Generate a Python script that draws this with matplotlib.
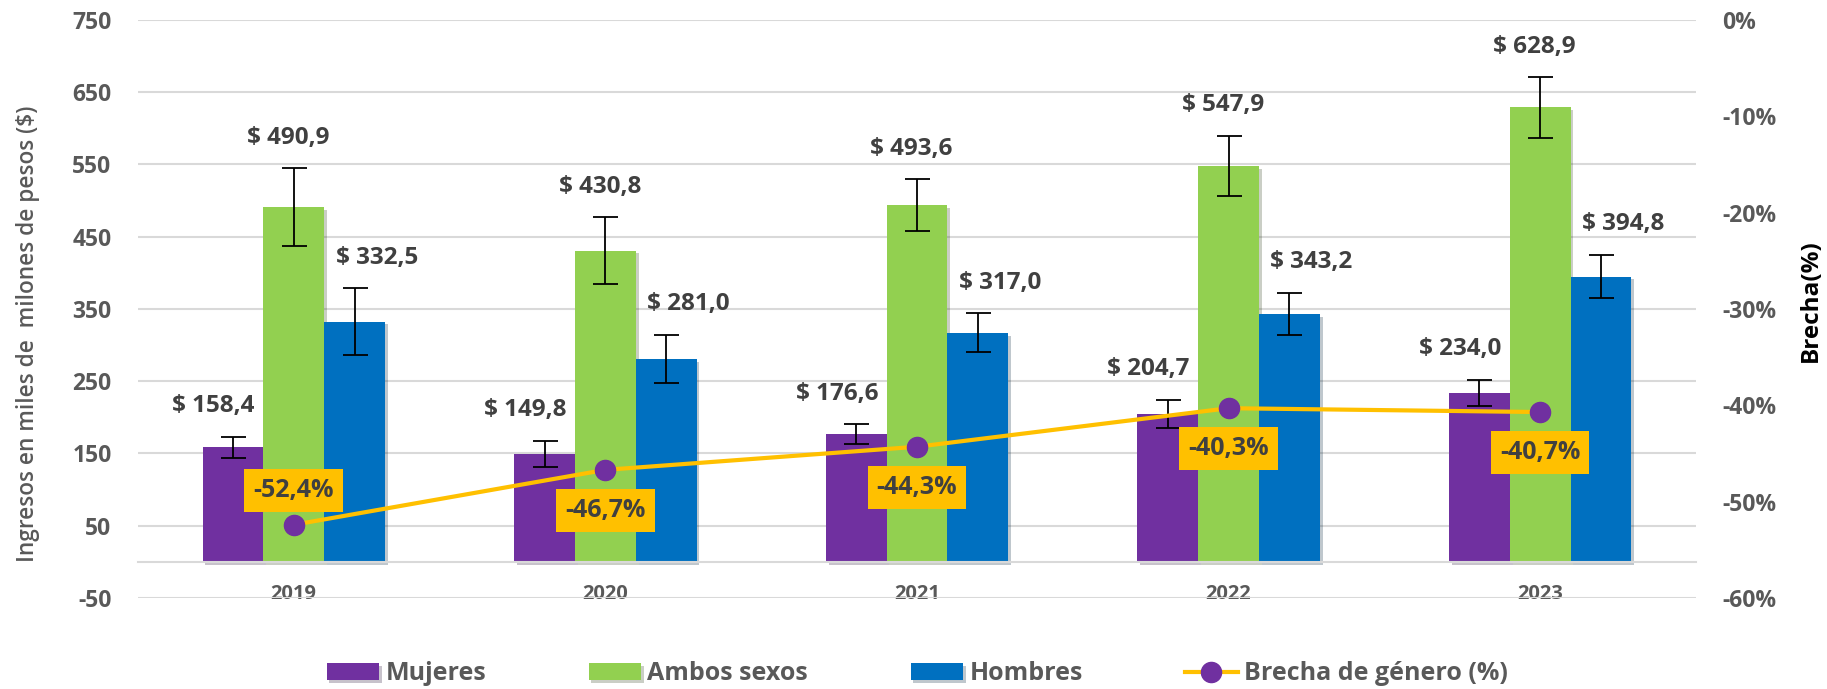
import numpy as np
import matplotlib.pyplot as plt
from matplotlib import patheffects as pe
from matplotlib.ticker import FuncFormatter

plt.rcParams['font.family'] = ['Open Sans', 'DejaVu Sans']
plt.rcParams['axes.unicode_minus'] = False

years = ['2019', '2020', '2021', '2022', '2023']
mujeres = [158.4, 149.8, 176.6, 204.7, 234.0]
ambos = [490.9, 430.8, 493.6, 547.9, 628.9]
hombres = [332.5, 281.0, 317.0, 343.2, 394.8]
mujeres_err = [15, 18, 14, 20, 18]
ambos_err = [54, 46, 36, 42, 42]
hombres_err = [46, 33, 27, 29, 30]
brecha = [-52.4, -46.7, -44.3, -40.3, -40.7]

grey = '#595959'
dark = '#404040'

fig = plt.figure(figsize=(18.27, 6.89), dpi=100)
ax = fig.add_axes([0.0755, 0.1321, 0.8528, 0.8389])

x = np.arange(len(years))
w = 0.195
series = [
    (mujeres, mujeres_err, '#7030A0', 'Mujeres', -w, -14),
    (ambos, ambos_err, '#92D050', 'Ambos sexos', 0, -4),
    (hombres, hombres_err, '#0070C0', 'Hombres', w, 16),
]
shadow = [pe.SimplePatchShadow(offset=(2, -2), alpha=0.25), pe.Normal()]
for vals, errs, col, lab, off, dx in series:
    bars = ax.bar(x + off, vals, w, color=col, label=lab, zorder=2)
    for b in bars:
        b.set_path_effects(shadow)
    ax.errorbar(x + off, vals, yerr=errs, fmt='none', ecolor='black',
                elinewidth=1.3, capsize=9, capthick=1.3, zorder=3)
    for xi, v, e in zip(x + off, vals, errs):
        ax.annotate(f'$ {v:.1f}'.replace('.', ','), (xi, v + e),
                    xytext=(dx, 22), textcoords='offset points',
                    ha='center', va='center', fontsize=17.5,
                    fontweight='bold', color=dark)

ax.set_xlim(-0.5, 4.5)
ax.set_ylim(-50, 750)
ax.set_yticks(np.arange(-50, 751, 100))
ax.yaxis.grid(True, color='#D9D9D9', linewidth=1.5)
ax.set_axisbelow(True)
for s in ['top', 'right', 'left']:
    ax.spines[s].set_visible(False)
ax.spines['bottom'].set_position(('data', 0))
ax.spines['bottom'].set_color('#D9D9D9')
ax.spines['bottom'].set_linewidth(1.5)
ax.set_xticks(x, years)
ax.tick_params(axis='x', length=0, pad=16, labelsize=14.5, labelcolor=grey)
ax.tick_params(axis='y', length=0, pad=19, labelsize=16.5, labelcolor=grey)
plt.setp(ax.get_xticklabels(), fontweight='bold')
plt.setp(ax.get_yticklabels(), fontweight='bold')
fig.text(0.0151, 0.515, 'Ingresos en miles de  milones de pesos ($)', rotation=90,
         ha='center', va='center', fontsize=16.3, fontweight='semibold', color=grey)

ax2 = ax.twinx()
ax2.set_ylim(-60, 0)
ax2.set_yticks(np.arange(-60, 1, 10))
ax2.yaxis.set_major_formatter(FuncFormatter(lambda v, p: f'{v:.0f}%'))
for s in ax2.spines.values():
    s.set_visible(False)
ax2.tick_params(axis='y', length=0, pad=19, labelsize=16.5, labelcolor=grey)
plt.setp(ax2.get_yticklabels(), fontweight='bold')
fig.text(0.991, 0.564, 'Brecha(%)', rotation=90, ha='center', va='center',
         fontsize=17.5, fontweight='bold', color='black')

ax2.plot(x, brecha, color='#FFC000', lw=3, marker='o', ms=14.5,
         mfc='#7030A0', mec='#7030A0', label='Brecha de género (%)', zorder=3)
for i, (xi, v) in enumerate(zip(x, brecha)):
    dy = 25 if i == 0 else -29
    ax2.annotate(f'{v:.1f}%'.replace('.', ','), (xi, v), xytext=(0, dy),
                 textcoords='offset points', ha='center', va='center',
                 fontsize=18, fontweight='bold', color=dark,
                 bbox=dict(boxstyle='square,pad=0.36', fc='#FFC000', ec='none'))

h1, l1 = ax.get_legend_handles_labels()
h2, l2 = ax2.get_legend_handles_labels()
fig.legend(h1 + h2, l1 + l2, loc='center', bbox_to_anchor=(0.502, 0.022),
           ncol=4, frameon=False, prop=dict(size=18, weight='bold'),
           labelcolor=grey, columnspacing=4.1, handlelength=2.1,
           handletextpad=0.25)

fig.savefig('out.png', dpi=100)
